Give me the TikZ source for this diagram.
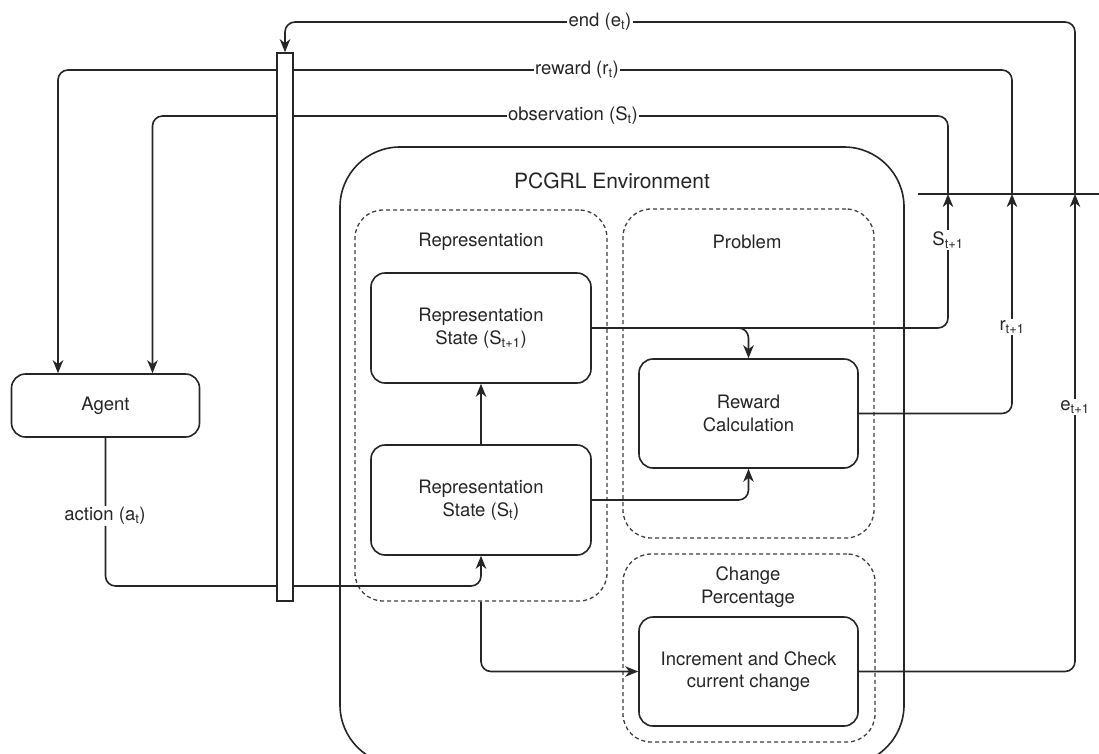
\documentclass[tikz,border=0pt]{standalone}
\usepackage{fontspec}
\setmainfont{TeX Gyre Heros}
\usetikzlibrary{arrows.meta,calc}
\begin{document}
\begin{tikzpicture}[x=1pt,y=-1pt,
  every node/.style={font=\fontsize{18.5}{22.5}\selectfont, text=black!85},
  ln/.style={draw=black!85, line width=1.6pt},
  arr/.style={ln, -{Stealth[length=13pt,width=10.5pt,inset=4pt]}, rounded corners=10pt},
  box/.style={draw=black!85, line width=1.6pt, rounded corners=14pt, fill=white, align=center, inner sep=0pt},
  grp/.style={draw=black!75, line width=1.3pt, dash pattern=on 4pt off 3pt, rounded corners=28pt, inner sep=0pt},
  lbl/.style={fill=white, inner sep=1.5pt},
]
\useasboundingbox (0,0) rectangle (1099,753);
\fill[white] (0,0) rectangle (1099,753);

% environment and groups
\node[draw=black!85, line width=1.6pt, rounded corners=60pt, minimum width=564pt, minimum height=618pt, inner sep=0pt] (env) at (622,456) {};
\node[font=\fontsize{21}{24}\selectfont] (envlbl) at (612,181) {PCGRL Environment};
\node[grp, minimum width=252pt, minimum height=391pt] (repg) at (481,405.5) {};
\node[grp, minimum width=251pt, minimum height=329pt] (probg) at (748.5,373.5) {};
\node[grp, minimum width=252pt, minimum height=188pt] (chgg) at (749,648) {};
\node (replbl) at (481,242) {Representation};
\node (problbl) at (747,242) {Problem};
\node[align=center] (chglbl) at (748,587) {Change\\Percentage};

% boxes
\node[box, minimum width=188pt, minimum height=63pt] (agent) at (105.5,405.5) {Agent};
\node[box, minimum width=220pt, minimum height=110pt] (rs1) at (481,328) {Representation\\State (S\textsubscript{t+1})};
\node[box, minimum width=220pt, minimum height=110pt] (rs0) at (481,500) {Representation\\State (S\textsubscript{t})};
\node[box, minimum width=219pt, minimum height=109pt] (reward) at (748.5,413.5) {Reward\\Calculation};
\node[box, minimum width=219pt, minimum height=109pt] (incr) at (748.5,671.5) {Increment and Check\\current change};

% coordinates
\coordinate (sT) at (948,194);
\coordinate (rT) at (1012,194);
\coordinate (eT) at (1075,194);
\coordinate (bl) at (918,194);
\coordinate (br) at (1099,194);
\coordinate (sTop) at (948,116);
\coordinate (rTop) at (1012,70);
\coordinate (eTop) at (1075,22);
\coordinate (actC) at (105.5,586);

% connectors
\draw[arr] (incr.east) -| (eT);
\draw[arr] (reward.east) -| (rT);
\draw[arr] (rs1.east) -| (sT);
\draw[arr] (rs1.east) -| (reward.north);
\draw[arr] (rs0.east) -| (reward.south);
\draw[arr] (rs0.north) -- (rs1.south);
\draw[arr] (repg.south) |- (incr.west);
\draw[ln] (bl) -- (br);
\draw[arr] (eT) -- (eTop) -| ($(agent.north)+(179.5,-321)$);
\draw[arr] (rT) -- (rTop) -| ($(agent.north)+(-47.5,0)$);
\draw[arr] (sT) -- (sTop) -| ($(agent.north)+(47,0)$);
\draw[arr] (agent.south) -- (actC) -| (rs0.south);

% bar
\node[draw=black!85, line width=1.6pt, fill=white, minimum width=16pt, minimum height=548pt, inner sep=0pt] (bar) at (285,327) {};

% labels
\node[lbl] (lend) at (600,22) {end (e\textsubscript{t})};
\node[lbl] (lrew) at (577,70) {reward (r\textsubscript{t})};
\node[lbl] (lobs) at (573,116) {observation (S\textsubscript{t})};
\node[lbl] (ls1) at (948,240) {S\textsubscript{t+1}};
\node[lbl] (lr1) at (1012,327) {r\textsubscript{t+1}};
\node[lbl] (le1) at (1075,407) {e\textsubscript{t+1}};
\node[lbl] (lact) at (105,516) {action (a\textsubscript{t})};
\end{tikzpicture}
\end{document}
